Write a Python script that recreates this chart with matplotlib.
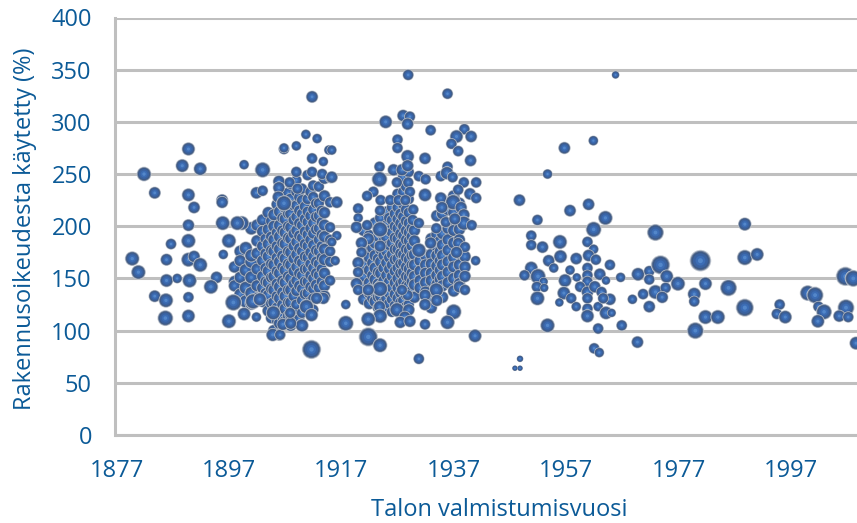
import numpy as np
import matplotlib
matplotlib.use("Agg")
import matplotlib.pyplot as plt

plt.rcParams['font.family'] = ['Open Sans', 'DejaVu Sans']

y_ticks = [0, 50, 100, 150, 200, 250, 300, 350, 400]
x_ticks = [1877, 1897, 1917, 1937, 1957, 1977, 1997]

# dense blobs, one list of values for each building year
blob1_columns = {
    1898: [161, 147, 143],
    1899: [176, 151, 167, 135],
    1900: [179, 158, 141, 128],
    1901: [198, 166, 172, 151, 136, 126],
    1902: [201, 186, 174, 159, 143, 131],
    1903: [206, 195, 181, 167, 152, 141, 128],
    1903.5: [188, 174, 160, 147, 136],
    1904: [213, 197, 183, 171, 157, 146, 134, 119],
    1904.5: [205, 190, 177, 164, 151, 140, 126, 112],
    1905: [211, 200, 187, 176, 163, 152, 139, 127, 116, 100],
    1905.5: [221, 194, 181, 170, 157, 145, 133, 122, 110],
    1906: [229, 214, 201, 190, 178, 166, 155, 142, 131, 118, 107, 96],
    1906.5: [208, 196, 184, 172, 161, 148, 137, 125, 113],
    1907: [218, 207, 194, 183, 169, 158, 146, 133, 121, 109],
    1907.5: [232, 212, 200, 189, 176, 164, 152, 139, 127, 114],
    1908: [241, 226, 212, 199, 188, 175, 163, 150, 139, 127, 115, 105],
    1908.5: [220, 206, 193, 181, 169, 157, 145, 133, 120],
    1909: [244, 233, 220, 209, 196, 185, 173, 161, 148, 138, 125],
    1909.5: [228, 215, 203, 191, 179, 167, 155, 143, 111],
    1910: [236, 225, 212, 201, 189, 176, 165, 153, 140, 129, 117, 106],
    1910.5: [219, 207, 195, 183, 171, 159, 147, 135, 123],
    1911: [249, 226, 214, 204, 192, 181, 170, 159, 147, 136],
    1911.5: [233, 210, 198, 187, 175, 164, 153, 142, 128],
    1912: [239, 228, 216, 203, 193, 182, 171, 160, 150, 140, 131, 120],
    1912.5: [222, 209, 197, 177, 166, 155, 144],
    1913: [238, 222, 210, 198, 187, 176, 164, 153, 141, 131],
    1913.5: [215, 204, 192, 181, 170, 159, 147],
    1914: [246, 229, 213, 201, 190, 178, 168, 155, 143, 133],
    1915: [223, 199, 187, 176, 166, 148],
}
blob1_column_size = {1898: 11, 1899: 11, 1900: 12, 1901: 12, 1902: 11, 1903: 11, 1903.5: 10, 1904: 11, 1904.5: 10,
                     1905: 11, 1905.5: 10, 1906: 11, 1906.5: 10, 1907: 11, 1907.5: 10, 1908: 11, 1908.5: 10, 1909: 10,
                     1909.5: 10, 1910: 10, 1910.5: 10, 1911: 10, 1911.5: 10, 1912: 10, 1912.5: 10, 1913: 10, 1913.5: 10,
                     1914: 11, 1915: 10}

blob2_columns = {
    1921: [196, 176, 163, 152, 141, 130],
    1922: [191, 170, 158, 146, 136, 126],
    1922.5: [179, 165, 153, 142, 131],
    1923: [203, 184, 172, 160, 149, 137, 128],
    1923.5: [190, 169, 156, 145, 132, 122],
    1924: [208, 194, 178, 166, 155, 143, 133],
    1924.5: [186, 172, 160, 148, 137, 127],
    1925: [214, 201, 189, 176, 165, 153, 142, 131, 122],
    1925.5: [208, 196, 182, 170, 159, 147, 136, 126],
    1926: [218, 206, 194, 184, 173, 163, 152, 141, 130, 118],
    1926.5: [212, 200, 189, 178, 168, 157, 146, 135, 124],
    1927: [231, 218, 207, 198, 188, 178, 169, 160, 150, 141, 131, 122],
    1927.5: [224, 212, 203, 193, 183, 174, 164, 155, 145, 136, 127, 116],
    1928: [247, 233, 221, 209, 200, 191, 182, 173, 165, 156, 147, 138, 129, 118],
    1928.5: [238, 216, 205, 196, 187, 178, 170, 161, 152, 143, 134, 123],
    1929: [252, 226, 213, 203, 194, 186, 177, 168, 159, 151, 143, 134, 125],
    1929.5: [198, 190, 181, 172, 163, 155, 147, 138],
    1930: [196, 186, 173, 163, 152, 144, 132],
    1931: [176, 167, 157, 148, 141],
    1932: [172, 163, 155, 146, 137],
    1933: [188, 173, 164, 155, 148, 131, 122],
    1934: [210, 192, 181, 172, 162, 153, 144, 134],
    1934.5: [186, 176, 167, 158, 149, 139],
    1935: [225, 212, 193, 182, 172, 163, 152, 143, 132],
    1936: [216, 198, 187, 177, 166, 156, 146],
    1937: [229, 213, 196, 184, 170, 161, 150, 138],
    1938: [222, 197, 187, 174, 163, 153, 145],
    1939: [171, 161, 152],
}
blob2_column_size = {1921: 11, 1922: 11, 1922.5: 10, 1923: 11, 1923.5: 10, 1924: 11, 1924.5: 10, 1925: 10, 1925.5: 10,
                     1926: 10, 1926.5: 10, 1927: 10, 1927.5: 10, 1928: 10, 1928.5: 10, 1929: 10, 1929.5: 10, 1930: 11,
                     1931: 11, 1932: 11, 1933: 11, 1934: 11, 1934.5: 10, 1935: 11, 1936: 11, 1937: 11, 1938: 11, 1939: 11}

# single readable bubbles
early_years = [1889.8, 1906.8, 1888.7, 1891.9, 1899.7, 1903, 1881.9, 1883.8, 1889.8, 1895.8, 1890.8, 1901.9, 1903, 1905.9,
               1905.9, 1905.8, 1906.8, 1895.8, 1889.8, 1895.9, 1899.3, 1898.5, 1879.8, 1880.9, 1886.7, 1889.8, 1897, 1896,
               1885.9, 1889.8, 1890.8, 1891.9, 1885.9, 1887.8, 1890, 1894.8, 1893.8, 1883.8, 1885.8, 1889.8, 1885.7, 1889.8,
               1897.8, 1897, 1899.7, 1901.9, 1911.7, 1904.8, 1906.1, 1910, 1906.6, 1908, 1910.8, 1911.7, 1904.9, 1907.9,
               1913.8, 1912.6, 1901.3, 1902.5]
early_values = [274, 274, 258, 255, 259, 254, 250, 232, 230, 225, 218, 232, 234, 243,
                237, 228, 222, 223, 201, 203, 203, 203, 169, 156, 183, 186, 186, 173,
                168, 168, 171, 163, 148, 150, 148, 151, 142, 133, 129, 132, 112, 114,
                127, 109, 116, 113, 82, 96, 96, 105, 106, 107, 123, 115, 117, 117,
                131, 131, 128, 130]
early_size = [12, 10, 12, 12, 9, 14, 13, 11, 12, 11, 11, 11, 10, 11,
              11, 11, 14, 11, 11, 13, 13, 13, 13, 13, 10, 13, 13, 9,
              11, 13, 11, 13, 12, 9, 13, 11, 13, 11, 13, 10, 14, 12,
              15, 13, 12, 9, 17, 12, 10, 12, 11, 11, 13, 12, 13, 10,
              11, 11, 14, 12]

top1_years = [1911.8, 1910.7, 1912.7, 1909, 1906.8, 1914.8, 1911.8, 1913.8, 1909, 1911.8, 1913.6, 1915, 1907.8, 1909.2,
              1915.3, 1915.3, 1916.2, 1916.2, 1915.3, 1915.9]
top1_values = [324, 288, 284, 277, 275, 273, 265, 262, 252, 252, 250, 246, 242, 236,
               273, 247, 223, 191, 185, 167]
top1_size = [11, 9, 9, 9, 9, 9, 10, 9, 10, 10, 10, 9, 10, 10,
             9, 11, 11, 9, 9, 9]

top2_years = [1928.9, 1935.9, 1928, 1929.2, 1928.8, 1924.9, 1932.9, 1938.9, 1937.5, 1940.1, 1936.6, 1927, 1927, 1937.8,
              1928.8, 1931.9, 1940, 1923.8, 1935.9, 1926.3, 1927.8, 1928.8, 1923.8, 1930.8, 1932, 1934.7, 1935.8, 1936.8,
              1926.9, 1928.9, 1938.8, 1941, 1937.8, 1939.9, 1941, 1922.7, 1921.6, 1924, 1929.2, 1931.9, 1934.7, 1936.9,
              1938.3, 1925.7, 1927.2, 1928.4, 1920, 1920, 1919.7, 1921.6, 1923.9, 1929.8, 1929.7, 1930.8, 1923.9, 1938.8,
              1938.8, 1940.2, 1933.9, 1935.6, 1937.2, 1934.9, 1921.8, 1920.6, 1920.6, 1923.9, 1932.9, 1930.8, 1937.8, 1939,
              1937.5, 1940.9, 1920, 1920, 1919.7, 1920, 1923.9, 1921.8, 1938, 1939, 1933.9, 1931.9, 1931.9, 1934,
              1928.8, 1927.8, 1923.8, 1923.9, 1921.8, 1926.9, 1929, 1928.3, 1927.5, 1929.2, 1937, 1935.9, 1931.9, 1917.8,
              1917.8, 1921.8, 1923.9, 1940.8, 1930.8]
top2_values = [345, 327, 306, 305, 298, 300, 292, 293, 286, 286, 279, 283, 275, 272,
               267, 265, 263, 257, 257, 254, 254, 258, 245, 248, 245, 248, 251, 247,
               242, 242, 242, 242, 235, 231, 227, 233, 229, 225, 233, 230, 227, 223,
               218, 225, 225, 225, 217, 208, 199, 201, 197, 216, 206, 203, 215, 211,
               203, 201, 198, 204, 207, 218, 188, 184, 175, 181, 184, 177, 184, 180,
               175, 167, 165, 156, 145, 139, 140, 139, 142, 139, 139, 134, 125, 129,
               134, 139, 123, 114, 111, 120, 120, 113, 108, 109, 118, 108, 106, 125,
               107, 94, 86, 95, 73]
top2_size = [10, 10, 11, 10, 11, 12, 10, 10, 12, 11, 10, 10, 10, 10,
             12, 11, 11, 10, 10, 11, 11, 11, 14, 10, 10, 10, 12, 10,
             10, 10, 10, 10, 10, 11, 10, 10, 10, 10, 10, 12, 11, 14,
             11, 10, 10, 10, 10, 9, 11, 10, 14, 10, 10, 10, 10, 11,
             13, 10, 10, 10, 11, 11, 11, 11, 10, 11, 11, 13, 10, 10,
             11, 9, 11, 10, 11, 10, 14, 11, 11, 10, 13, 11, 11, 11,
             10, 10, 11, 13, 13, 13, 11, 11, 11, 11, 14, 13, 10, 9,
             14, 17, 13, 12, 10]

late_years = [1965.8, 1956.7, 1961.85, 1953.7, 1948.7, 1951.9, 1957.7, 1961, 1964, 1961.9, 1972.9, 1988.8, 1950.8, 1950.8,
              1952.8, 1955.9, 1960.8, 1961.9, 1953.9, 1956, 1958.8, 1961, 1962.3, 1964.8, 1954.8, 1950.8, 1949.6, 1952,
              1953, 1957.7, 1956.8, 1958.9, 1960.8, 1960.8, 1960.8, 1963, 1964.1, 1966.7, 1969.8, 1971.8, 1971.8, 1973.8,
              1974.9, 1976.9, 1980.9, 1988.8, 1991, 1981.8, 1985.9, 1951.8, 1953.1, 1951.9, 1956.6, 1957.9, 1955.8, 1958.8,
              1959.5, 1960.8, 1962.1, 1963.3, 1960.8, 1964.8, 1962.7, 1963.6, 1960.8, 1960.8, 1964.1, 1965.1, 1953.7, 1962.7,
              1966.9, 1969.7, 1962, 1962.9, 1948.8, 1947.9, 1948.8, 1968.8, 1970.7, 1972.9, 1974.7, 1974.1, 1971.8, 1979.8,
              1979.8, 1981.8, 1984, 1980, 1988.8, 1995, 1994.5, 1996, 2000, 2001.3, 2001.9, 2002.9, 2001.8, 2006.7,
              2008.1, 2006.8, 2005.6, 2007.2, 2008.6]
late_values = [345, 275, 282, 250, 225, 206, 215, 221, 208, 197, 194, 202, 191, 182,
               180, 185, 185, 178, 167, 171, 169, 172, 168, 163, 160, 160, 153, 152,
               147, 158, 148, 151, 160, 153, 147, 154, 148, 151, 154, 157, 149, 163,
               152, 145, 167, 170, 173, 145, 141, 142, 141, 131, 136, 131, 127, 123,
               142, 137, 142, 137, 131, 130, 123, 131, 121, 114, 117, 117, 105, 102,
               105, 89, 83, 79, 73, 64, 64, 130, 135, 137, 141, 132, 123, 135,
               128, 113, 113, 100, 122, 125, 116, 113, 136, 134, 123, 118, 109, 152,
               150, 122, 114, 113, 88]
late_size = [7, 11, 9, 9, 11, 10, 11, 11, 13, 14, 15, 12, 10, 10,
             11, 13, 10, 9, 11, 12, 11, 11, 10, 10, 9, 12, 10, 14,
             8, 9, 12, 8, 10, 10, 10, 11, 8, 9, 12, 10, 10, 17,
             12, 13, 19, 14, 12, 12, 15, 10, 8, 13, 12, 10, 8, 9,
             10, 11, 11, 10, 10, 11, 9, 10, 10, 12, 12, 8, 13, 10,
             10, 11, 10, 9, 6, 5, 5, 9, 10, 13, 10, 11, 11, 12,
             10, 13, 13, 15, 16, 10, 10, 12, 14, 15, 10, 14, 12, 17,
             15, 15, 11, 10, 12]


def collect_columns(columns, column_size):
    years, values, size = [], [], []
    for year in columns:
        for value in columns[year]:
            years.append(year)
            values.append(value)
            size.append(column_size[year])
    return years, values, size


def draw_bubbles(ax, years, values, size):
    # every bubble is a stack of discs, kept together in one scatter so later bubbles cover earlier ones
    layers = [(1.14, '#c3c9d2'), (1.04, '#6b7d98'), (0.94, '#3f5a85'), (0.78, '#3a62a0'), (0.52, '#3c6db5'), (0.26, '#5387ca')]
    xs, ys, areas, colors = [], [], [], []
    for i in range(len(years)):
        diameter_pt = size[i] * 0.72
        for scale, color in layers:
            xs.append(years[i])
            ys.append(values[i])
            areas.append((diameter_pt * scale) ** 2)
            colors.append(color)
    ax.scatter(xs, ys, s=areas, c=colors, linewidths=0, zorder=3, clip_on=False)


def main():
    fig = plt.figure(figsize=(8.57, 5.23), dpi=100)
    ax = fig.add_axes([115.5 / 857, 1 - 435 / 523, (857 - 115.5) / 857, (435 - 17.5) / 523])

    b1_x, b1_y, b1_s = collect_columns(blob1_columns, blob1_column_size)
    b2_x, b2_y, b2_s = collect_columns(blob2_columns, blob2_column_size)
    draw_bubbles(ax, b1_x + b2_x, b1_y + b2_y, b1_s + b2_s)
    draw_bubbles(ax, early_years + top1_years + top2_years + late_years,
                 early_values + top1_values + top2_values + late_values,
                 early_size + top1_size + top2_size + late_size)

    ax.set_xlim(1877 - 1 / 5.62, 1877 + (857 - 116.5) / 5.62)
    ax.set_ylim(0, 400)
    ax.set_xticks(x_ticks)
    ax.set_yticks(y_ticks)
    ax.grid(axis='y', color='#bfbfbf', linewidth=2.2, zorder=1)
    ax.set_axisbelow(True)
    for name in ['top', 'right']:
        ax.spines[name].set_visible(False)
    for name in ['left', 'bottom']:
        ax.spines[name].set_color('#bfbfbf')
        ax.spines[name].set_linewidth(2.2)
    ax.tick_params(length=0, labelsize=17, labelcolor='#0b5a97')
    ax.tick_params(axis='x', pad=17)
    ax.tick_params(axis='y', pad=17)
    ax.set_xlabel('Talon valmistumisvuosi', fontsize=17, color='#0b5a97', labelpad=11, x=0.517)
    ax.set_ylabel('Rakennusoikeudesta käytetty (%)', fontsize=17, color='#0b5a97', labelpad=10, y=0.495)

    fig.savefig('out.png', dpi=100)


if __name__ == "__main__":
    main()
